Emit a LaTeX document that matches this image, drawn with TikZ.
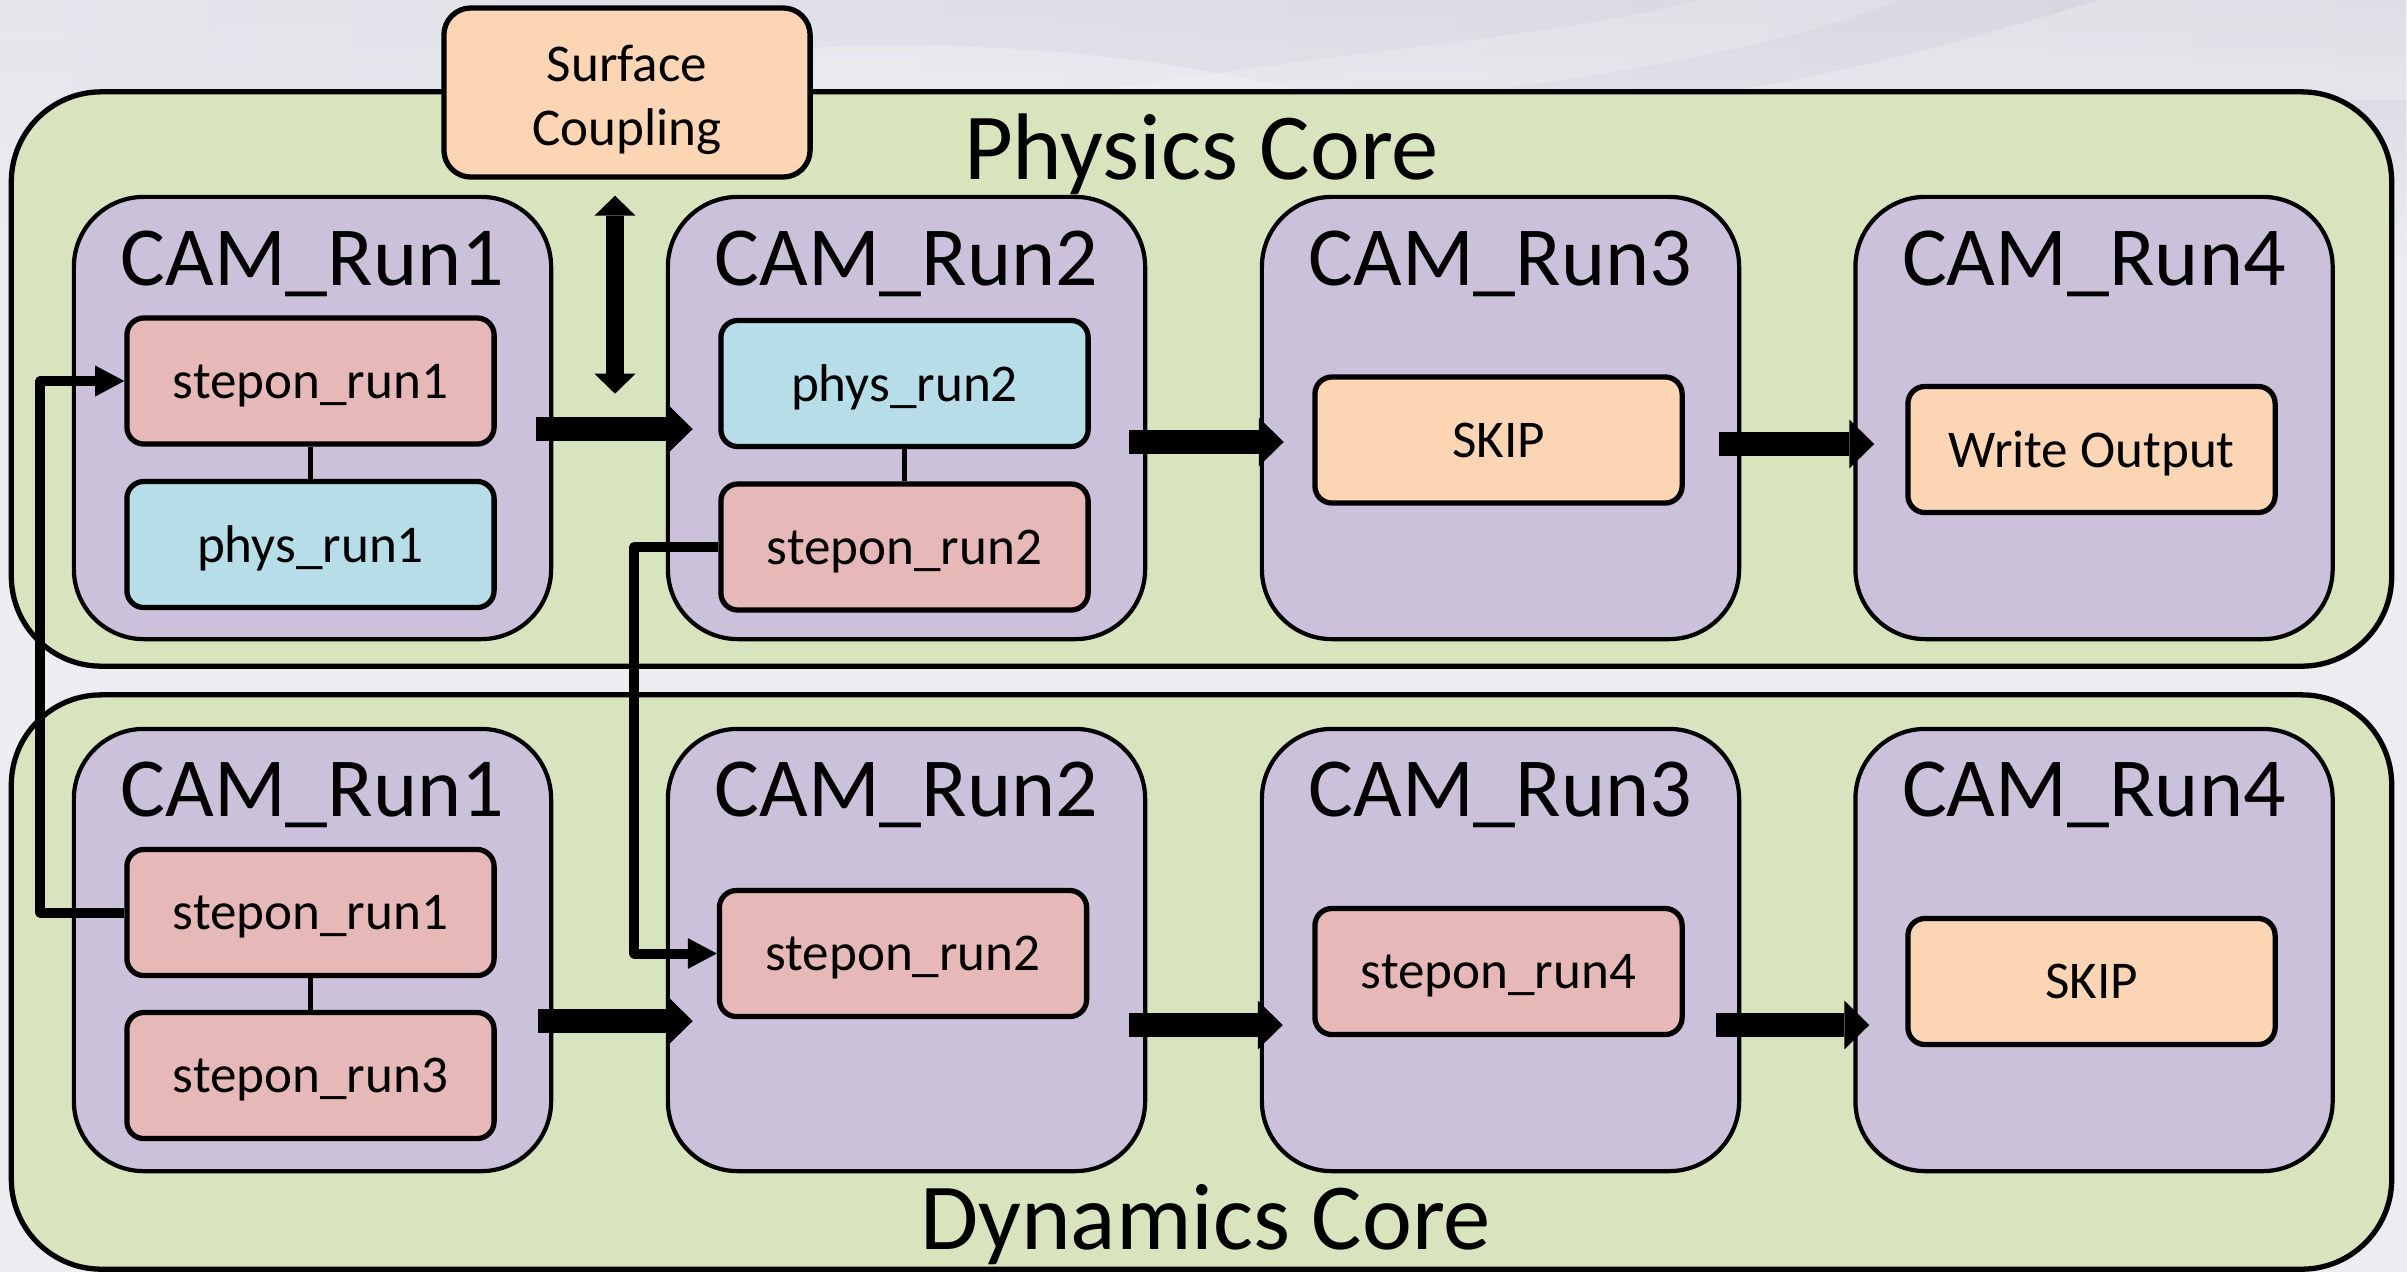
\documentclass[tikz,border=0pt]{standalone}
\usepackage{fontspec}
\setmainfont{Carlito}
\usetikzlibrary{arrows.meta,calc,fadings}
\definecolor{coregreen}{RGB}{215,228,189}
\definecolor{campurple}{RGB}{204,193,218}
\definecolor{steppink}{RGB}{230,185,184}
\definecolor{physblue}{RGB}{183,222,232}
\definecolor{peach}{RGB}{252,213,181}
\definecolor{bgbase}{RGB}{236,237,241}
\definecolor{bgleft}{RGB}{229,230,236}
\definecolor{bgmid}{RGB}{188,190,202}
\definecolor{bgright}{RGB}{212,213,222}
\begin{document}
\begin{tikzpicture}[x=0.01cm,y=-0.01cm,
  core/.style={draw=black, line width=1.5pt, fill=coregreen, rounded corners=0.9cm,
    minimum width=23.79cm, minimum height=5.74cm, inner sep=0pt},
  cam/.style={draw=black, line width=1.2pt, fill=campurple, rounded corners=0.7cm,
    minimum width=4.77cm, minimum height=4.42cm, inner sep=0pt},
  subbox/.style={draw=black, line width=1.5pt, rounded corners=0.17cm,
    minimum width=3.67cm, minimum height=1.26cm, inner sep=0pt, text depth=0pt,
    font=\fontsize{15.1}{18}\selectfont},
  pinkbox/.style={subbox, fill=steppink},
  bluebox/.style={subbox, fill=physblue},
  peachbox/.style={subbox, fill=peach},
  camtitle/.style={font=\fontsize{23.9}{28}\selectfont, anchor=base, inner sep=0pt},
  coretitle/.style={font=\fontsize{26.9}{32}\selectfont, anchor=base, inner sep=0pt},
  link/.style={line width=1.6pt},
  conn/.style={line width=2.85pt, line join=round,
    -{Triangle[length=8.25pt,width=8.8pt,line width=0pt]}},
  blockarrow/.style={line width=6.83pt,
    -{Triangle[length=7.1pt,width=13.9pt,line width=0pt]}},
  dblarrow/.style={line width=5.1pt,
    {Triangle[length=5.7pt,width=11.7pt,line width=0pt]}-{Triangle[length=5.7pt,width=11.7pt,line width=0pt]}}
]
\useasboundingbox (0,0) rectangle (2407,1272);
% background
\fill[bgbase] (0,0) rectangle (2407,1272);
\shade[left color=bgleft, middle color=bgmid, right color=bgright, path fading=south]
  (0,0) rectangle (2407,260);
\fill[white, opacity=0.25] (420,100) .. controls (700,40) and (1000,20) .. (1300,90)
  .. controls (1600,150) and (1900,60) .. (2100,0) -- (2407,0) -- (2407,100) -- cycle;
\fill[white, opacity=0.2] (1050,100) .. controls (1250,60) and (1550,40) .. (1700,0)
  -- (1900,0) .. controls (1750,60) and (1500,90) .. (1400,100) -- cycle;

% cores
\node[core] (phys) at (1201.5,379) {};
\node[core] (dyn) at (1201.5,982) {};

% surface coupling
\node[draw=black, line width=1.5pt, fill=peach, rounded corners=0.27cm,
  minimum width=3.66cm, minimum height=1.69cm, inner sep=0pt] (surf) at (627,92.5) {};
\node[align=center, inner sep=0pt, font=\fontsize{15.1}{18.2}\selectfont]
  (surft) at ($(surf.center)+(0,7)$) {Surface\\Coupling};

% CAM boxes
\node[cam] (t1) at (312.5,418) {};
\node[cam] (t2) at (906.5,418) {};
\node[cam] (t3) at (1500.5,418) {};
\node[cam] (t4) at (2094,418) {};
\node[cam] (b1) at (312.5,950) {};
\node[cam] (b2) at (906.5,950) {};
\node[cam] (b3) at (1500.5,950) {};
\node[cam] (b4) at (2094,950) {};

% inner boxes, top
\node[pinkbox] (tsr1) at (310.5,381) {stepon\_run1};
\node[bluebox] (tpr1) at (310.5,544.5) {phys\_run1};
\node[bluebox] (tpr2) at (904.5,383.5) {phys\_run2};
\node[pinkbox] (tsr2) at (904.5,547) {stepon\_run2};
\node[peachbox] (tskip) at (1498.5,440) {SKIP};
\node[peachbox] (twrite) at (2091.5,449.5) {Write Output};
% inner boxes, bottom
\node[pinkbox] (bsr1) at (310.5,912.5) {stepon\_run1};
\node[pinkbox] (bsr3) at (310.5,1075.5) {stepon\_run3};
\node[pinkbox] (bsr2) at (903,953.5) {stepon\_run2};
\node[pinkbox] (bsr4) at (1498.5,971.5) {stepon\_run4};
\node[peachbox] (bskip) at (2091.5,981.5) {SKIP};

% links inside CAM boxes
\draw[link] (tsr1) -- (tpr1);
\draw[link] (tpr2) -- (tsr2);
\draw[link] (bsr1) -- (bsr3);

% connectors
\draw[conn] (bsr1.west) -- ($(bsr1.west)+(-84,0)$) |- (tsr1.west);
\draw[conn] (tsr2.west) -- ($(tsr2.west)+(-84,0)$) |- (bsr2.west);

% surface coupling double arrow
\coordinate (dtop) at ($(surf.south)+(-12,16)$);
\coordinate (dbot) at ($(surf.south)+(-12,214)$);
\draw[dblarrow] (dtop) -- (dbot);

% block arrows
\draw[blockarrow] ($(t1.east)+(-17,11)$) -- ($(t2.west)+(27,11)$);
\draw[blockarrow] ($(t2.east)+(-18,24)$) -- ($(t3.west)+(24,24)$);
\draw[blockarrow] ($(t3.east)+(-22,26)$) -- ($(t4.west)+(21,26)$);
\draw[blockarrow] ($(b1.east)+(-15,71)$) -- ($(b2.west)+(27,71)$);
\draw[blockarrow] ($(b2.east)+(-18,75)$) -- ($(b3.west)+(23,75)$);
\draw[blockarrow] ($(b3.east)+(-25,75)$) -- ($(b4.west)+(16,75)$);

% titles
\node[camtitle] (t1l) at ($(t1.north)+(0,91)$) {CAM\_Run1};
\node[camtitle] (t2l) at ($(t2.north)+(0,91)$) {CAM\_Run2};
\node[camtitle] (t3l) at ($(t3.north)+(0,91)$) {CAM\_Run3};
\node[camtitle] (t4l) at ($(t4.north)+(0,91)$) {CAM\_Run4};
\node[camtitle] (b1l) at ($(b1.north)+(0,90)$) {CAM\_Run1};
\node[camtitle] (b2l) at ($(b2.north)+(0,90)$) {CAM\_Run2};
\node[camtitle] (b3l) at ($(b3.north)+(0,90)$) {CAM\_Run3};
\node[camtitle] (b4l) at ($(b4.north)+(0,90)$) {CAM\_Run4};
\node[coretitle] (physl) at ($(phys.north)+(0,90)$) {Physics Core};
\node[coretitle] (dynl) at ($(dyn.south)+(4,-22)$) {Dynamics Core};
\end{tikzpicture}
\end{document}
